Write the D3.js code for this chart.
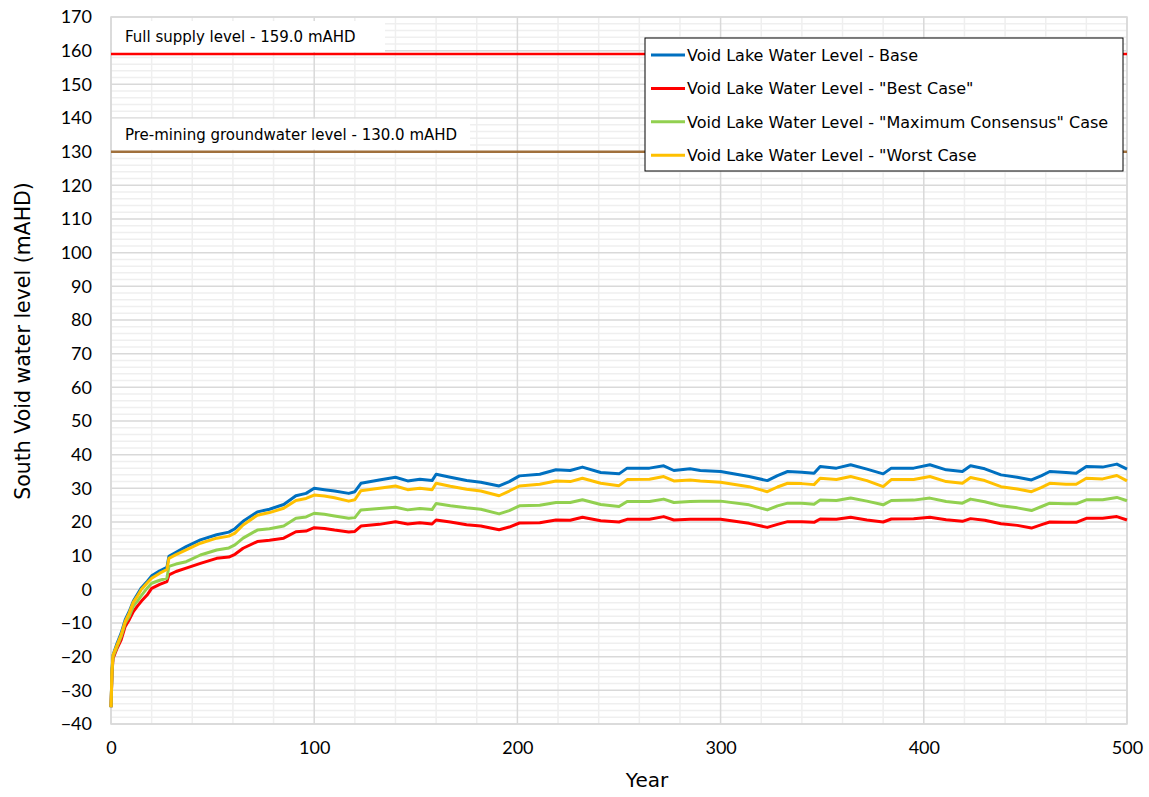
<!DOCTYPE html>
<html>
<head>
<meta charset="utf-8">
<script src="https://cdn.jsdelivr.net/npm/d3@7"></script>
<style>
  body { margin: 0; background: #fff; }
  svg { display: block; }
  .tick text { font-family: Lato, "Open Sans", sans-serif; font-size: 18px; fill: #000; }
  .lab { font-family: "DejaVu Sans", sans-serif; }
</style>
</head>
<body>
<div id="app"></div>
<script>
const years = [0, 0.5, 1, 3, 5, 7, 9, 11, 13, 15, 18, 20, 24, 27.5, 28.5, 32, 37, 44, 52, 58, 61, 65, 72, 78, 85, 91, 96, 100, 105, 110, 117, 120, 123, 132, 140, 146, 152, 158, 160, 167, 175, 182, 191, 196, 201, 211, 219, 226, 232, 241, 250, 254, 265, 272, 277, 285, 290, 300, 314, 323, 328, 333, 340, 346, 349, 357, 364, 372, 380, 384, 395, 403, 411, 419, 423, 430, 438, 446, 453, 458, 462, 470, 475, 480, 488, 495, 500];

const baseLevel = [-35, -24, -19.5, -16, -13, -9, -6.5, -3.5, -1.5, 0.5, 2.5, 4, 5.5, 6.5, 9.8, 11, 12.7, 14.7, 16.2, 17, 18, 20.2, 23, 23.8, 25.2, 27.8, 28.5, 30, 29.6, 29.2, 28.5, 29, 31.5, 32.5, 33.3, 32.2, 32.7, 32.3, 34.2, 33.3, 32.3, 31.8, 30.7, 32, 33.7, 34.2, 35.5, 35.3, 36.3, 34.7, 34.3, 36, 36, 36.7, 35.3, 35.8, 35.3, 35, 33.5, 32.3, 33.8, 35, 34.8, 34.5, 36.5, 36, 37, 35.7, 34.3, 36, 36, 37, 35.5, 35, 36.7, 35.8, 34, 33.3, 32.5, 33.8, 35, 34.7, 34.5, 36.5, 36.3, 37.2, 35.7];

const bestCase = [-35, -25, -20.5, -17.5, -15, -11, -9, -6.6, -5, -3.5, -1.5, 0.3, 1.5, 2.3, 4.3, 5.3, 6.3, 7.7, 9.2, 9.6, 10.4, 12.2, 14.2, 14.6, 15.2, 17.1, 17.3, 18.3, 18.1, 17.6, 17.0, 17.2, 18.8, 19.3, 20.1, 19.4, 19.8, 19.4, 20.6, 20.0, 19.2, 18.8, 17.7, 18.5, 19.7, 19.8, 20.6, 20.5, 21.4, 20.4, 20.0, 20.8, 20.8, 21.6, 20.6, 20.8, 20.8, 20.8, 19.6, 18.4, 19.3, 20.1, 20.1, 19.9, 20.9, 20.8, 21.4, 20.6, 20.0, 20.9, 21.0, 21.4, 20.7, 20.2, 21.0, 20.5, 19.5, 19.0, 18.2, 19.2, 20.0, 19.9, 19.9, 21.1, 21.1, 21.6, 20.6];

const maxConsensus = [-35, -24.5, -20, -17, -14, -10, -8, -5, -3.5, -1.8, 0.5, 1.8, 2.7, 3.3, 6.8, 7.5, 8.2, 10.2, 11.7, 12.3, 13.2, 15.2, 17.6, 18, 18.8, 21.1, 21.5, 22.6, 22.3, 21.8, 21.1, 21.3, 23.6, 24, 24.4, 23.6, 24, 23.7, 25.5, 24.8, 24.2, 23.8, 22.4, 23.4, 24.8, 25, 25.8, 25.8, 26.6, 25.2, 24.6, 26.1, 26.1, 26.8, 25.8, 26.1, 26.2, 26.2, 25.1, 23.6, 24.8, 25.6, 25.6, 25.3, 26.5, 26.4, 27.1, 26.2, 25.1, 26.4, 26.5, 27.1, 26.1, 25.6, 26.8, 26, 24.8, 24.2, 23.4, 24.6, 25.6, 25.4, 25.4, 26.6, 26.6, 27.3, 26.3];

const worstCase = [-35, -24, -19.5, -16.5, -13.5, -9.5, -7, -3.8, -2, 0, 2, 3.3, 4.8, 5.9, 9.2, 10.3, 11.7, 13.7, 15.2, 15.8, 16.7, 19.1, 22, 22.8, 24.1, 26.4, 27, 28, 27.7, 27.2, 26.2, 26.6, 29.3, 30, 30.7, 29.6, 30, 29.6, 31.5, 30.6, 29.7, 29.2, 27.8, 29.2, 30.7, 31.2, 32.2, 32, 33, 31.5, 30.8, 32.6, 32.7, 33.5, 32.2, 32.5, 32.2, 31.8, 30.5, 29, 30.4, 31.5, 31.4, 31.1, 33, 32.6, 33.5, 32.3, 30.5, 32.6, 32.6, 33.5, 32, 31.5, 33.2, 32.3, 30.5, 29.8, 29, 30.3, 31.5, 31.2, 31.2, 33, 32.8, 33.8, 32.2];

const seriesNames = ['Void Lake Water Level - Base', 'Void Lake Water Level - "Best Case"', 'Void Lake Water Level - "Maximum Consensus" Case', 'Void Lake Water Level - "Worst Case'];
const seriesValues = [baseLevel, bestCase, maxConsensus, worstCase];
const seriesColors = ['#0070c0', '#ff0000', '#92d050', '#ffc000'];

const refLevels = [159, 130];
const refLabels = ['Full supply level - 159.0 mAHD', 'Pre-mining groundwater level - 130.0 mAHD'];
const refColors = ['#ff0000', '#a0703c'];

const xTicks = [0, 100, 200, 300, 400, 500];
const yTicks = d3.range(-40, 171, 10);

const width = 1149;
const height = 797;
const margin = { left: 111, right: 22, top: 17, bottom: 73 };
const innerW = width - margin.left - margin.right;
const innerH = height - margin.top - margin.bottom;

const svg = d3.select('#app').append('svg')
  .attr('width', width)
  .attr('height', height);

const x = d3.scaleLinear().domain([0, 500]).range([0, innerW]);
const y = d3.scaleLinear().domain([-40, 170]).range([innerH, 0]);

const g = svg.append('g').attr('transform', `translate(${margin.left},${margin.top})`);

// minor grid
g.append('g').selectAll('line')
  .data(d3.range(-40, 171, 2).filter(v => v % 10 !== 0))
  .join('line')
  .attr('x1', 0).attr('x2', innerW)
  .attr('y1', d => y(d)).attr('y2', d => y(d))
  .attr('stroke', '#efefef').attr('stroke-width', 1.5);

g.append('g').selectAll('line')
  .data(d3.range(0, 501, 20).filter(v => v % 100 !== 0))
  .join('line')
  .attr('y1', 0).attr('y2', innerH)
  .attr('x1', d => x(d)).attr('x2', d => x(d))
  .attr('stroke', '#efefef').attr('stroke-width', 1.5);

// major grid
g.append('g').selectAll('line')
  .data(yTicks)
  .join('line')
  .attr('x1', 0).attr('x2', innerW)
  .attr('y1', d => y(d)).attr('y2', d => y(d))
  .attr('stroke', '#d9d9d9').attr('stroke-width', 1.5);

g.append('g').selectAll('line')
  .data(xTicks)
  .join('line')
  .attr('y1', 0).attr('y2', innerH)
  .attr('x1', d => x(d)).attr('x2', d => x(d))
  .attr('stroke', '#d9d9d9').attr('stroke-width', 1.5);

g.append('rect')
  .attr('width', innerW).attr('height', innerH)
  .attr('fill', 'none').attr('stroke', '#d9d9d9').attr('stroke-width', 1.5);

// reference levels with white label boxes
const labelBoxW = [273, 358];
refLevels.forEach((lv, i) => {
  g.append('rect')
    .attr('x', 1).attr('y', y(lv) - 33)
    .attr('width', labelBoxW[i]).attr('height', 31)
    .attr('fill', '#fff');
  g.append('text')
    .attr('class', 'lab')
    .attr('x', 14).attr('y', y(lv) - 12)
    .attr('font-size', 15)
    .text(refLabels[i]);
  g.append('line')
    .attr('x1', 0).attr('x2', innerW)
    .attr('y1', y(lv)).attr('y2', y(lv))
    .attr('stroke', refColors[i]).attr('stroke-width', 2.5);
});

// series
const line = d3.line()
  .x((d, i) => x(years[i]))
  .y(d => y(d));

seriesValues.forEach((vals, i) => {
  g.append('path')
    .datum(vals)
    .attr('fill', 'none')
    .attr('stroke', seriesColors[i])
    .attr('stroke-width', 3)
    .attr('stroke-linejoin', 'round')
    .attr('d', line);
});

// axes
const yAxis = d3.axisLeft(y).tickValues(yTicks).tickSize(0).tickPadding(19);
g.append('g').call(yAxis).call(s => s.select('.domain').remove());

const xAxis = d3.axisBottom(x).tickValues(xTicks).tickSize(0).tickPadding(17);
g.append('g').attr('transform', `translate(0,${innerH})`)
  .call(xAxis).call(s => s.select('.domain').remove());

svg.append('text')
  .attr('class', 'lab')
  .attr('x', 647).attr('y', 787)
  .attr('text-anchor', 'middle')
  .attr('font-size', 20)
  .text('Year');

svg.append('text')
  .attr('class', 'lab')
  .attr('transform', 'translate(30, 341) rotate(-90)')
  .attr('text-anchor', 'middle')
  .attr('font-size', 20.5)
  .text('South Void water level (mAHD)');

// legend
const legend = svg.append('g').attr('transform', 'translate(645,38)');
legend.append('rect')
  .attr('width', 478).attr('height', 133)
  .attr('fill', '#fff').attr('stroke', '#000').attr('stroke-width', 1);

seriesNames.forEach((name, i) => {
  const ly = 17 + i * 33.4;
  legend.append('line')
    .attr('x1', 6).attr('x2', 40)
    .attr('y1', ly).attr('y2', ly)
    .attr('stroke', seriesColors[i]).attr('stroke-width', 3);
  legend.append('text')
    .attr('class', 'lab')
    .attr('x', 42).attr('y', ly + 6)
    .attr('font-size', 16)
    .text(name);
});
</script>
</body>
</html>
